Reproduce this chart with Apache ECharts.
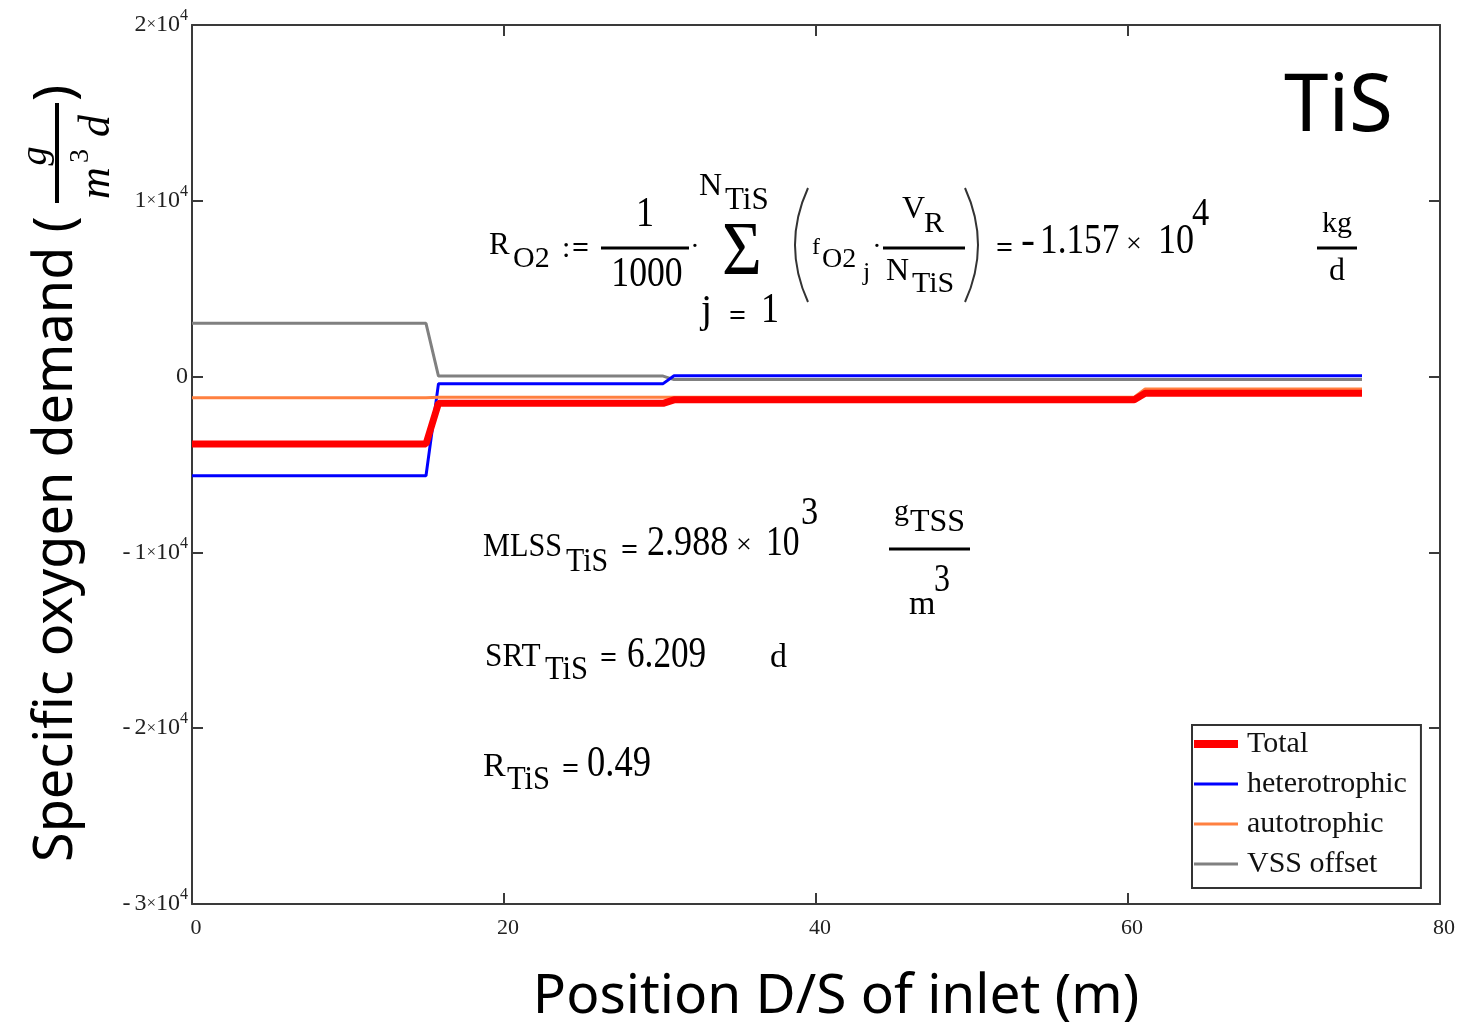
<!DOCTYPE html>
<html>
<head>
<meta charset="utf-8">
<script src="https://cdn.jsdelivr.net/npm/echarts@6/dist/echarts.min.js"></script>
<style>
  html, body { margin: 0; padding: 0; background: #fff; }
  #chart { width: 1468px; height: 1025px; }
</style>
</head>
<body>
<div id="chart"></div>
<script>
// values (position in m, demand in g/m3/d)
const position = [0, 15, 15.8, 30.2, 30.9, 60.4, 61.1, 75]
const total = [-3830, -3830, -1520, -1520, -1320, -1320, -950, -950]
const heterotrophic = [-5640, -5640, -400, -400, 50, 50, 50, 50]
const autotrophic = [-1200, -1200, -1180, -1180, -1170, -1170, -700, -700]
const vssOffset = [3030, 3030, 30, 30, -170, -170, -170, -170]
const legendNames = ['Total', 'heterotrophic', 'autotrophic', 'VSS offset']

const chart = echarts.init(document.getElementById('chart'))

const pairs = arr => position.map((x, i) => [x, arr[i]])
const frame = '#3a3a3a'
const serif = 'Liberation Serif'

// plain text helper for the Mathcad-like annotations
function t(x, y, text, size, o) {
  o = o || {}
  const al = o.al || 'left'
  return {
    type: 'text', x: x, y: y, z: 50,
    scaleX: o.sx || 1, rotation: o.rot || 0,
    style: {
      text: text, fontSize: size, fontFamily: o.ff || serif,
      fontStyle: o.it ? 'italic' : 'normal',
      fontWeight: o.b ? 'bold' : 'normal',
      fill: '#000',
      align: al, textAlign: al,
      verticalAlign: 'middle', textVerticalAlign: 'middle'
    }
  }
}
function ln(x1, y1, x2, y2, w) {
  return { type: 'line', z: 50, shape: { x1, y1, x2, y2 }, style: { stroke: '#000', lineWidth: w || 3 } }
}
function paren(x, y1, y2, cx) {
  return { type: 'bezierCurve', z: 50, shape: { x1: x, y1: y1, x2: x, y2: y2, cpx1: cx, cpy1: (y1 + y2) / 2 }, style: { stroke: '#333', lineWidth: 2, fill: null } }
}
// legend swatch: 44x14 box with a bar of the given thickness in the middle
const swatch = w => 'path://M0,0M0,14M0,' + (7 - w / 2) + 'H44V' + (7 + w / 2) + 'H0Z'

const annotations = [
  // R_O2 := 1/1000 * sum(...) = -1.157 x 10^4 kg/d
  t(489, 246, 'R', 31),
  t(513, 259, 'O2', 30),
  t(562, 249, ':', 30),
  t(572, 249, '=', 30, { b: true }),
  t(645, 215, '1', 42, { al: 'center', sx: 0.86 }),
  ln(601, 248, 689, 248),
  t(647, 275, '1000', 42, { al: 'center', sx: 0.85 }),
  t(695, 248, '·', 28, { al: 'center' }),
  t(742, 254, 'Σ', 76, { al: 'center', sx: 0.9 }),
  t(699, 187, 'N', 32),
  t(725, 201, 'TiS', 31),
  t(701, 311, 'j', 40),
  t(729, 317, '=', 30, { b: true }),
  t(761, 311, '1', 42, { sx: 0.86 }),
  paren(808, 188, 302, 782),
  t(812, 248, 'f', 24),
  t(822, 260, 'O2', 28),
  t(863, 273, 'j', 26),
  t(877, 248, '·', 28, { al: 'center' }),
  ln(883, 248, 965, 248),
  t(902, 210, 'V', 32),
  t(924, 224, 'R', 30),
  t(886, 272, 'N', 32),
  t(912, 284, 'TiS', 30),
  paren(965, 188, 302, 991),
  t(996, 249, '=', 30, { b: true }),
  t(1021, 242, '-', 42),
  t(1040, 242, '1.157', 42, { sx: 0.84 }),
  t(1126, 245, '×', 28),
  t(1158, 242, '10', 42, { sx: 0.86 }),
  t(1192, 214, '4', 40, { sx: 0.86 }),
  t(1337, 224, 'kg', 30, { al: 'center' }),
  ln(1317, 248, 1357, 248),
  t(1337, 272, 'd', 32, { al: 'center' }),

  // MLSS_TiS = 2.988 x 10^3 gTSS/m^3
  t(483, 547, 'MLSS', 34, { sx: 0.89 }),
  t(566, 562, 'TiS', 34, { sx: 0.88 }),
  t(621, 551, '=', 30, { b: true }),
  t(647, 544, '2.988', 42, { sx: 0.86 }),
  t(736, 546, '×', 28),
  t(766, 544, '10', 42, { sx: 0.8 }),
  t(801, 513, '3', 40, { sx: 0.86 }),
  t(894, 512, 'g', 30),
  t(910, 523, 'TSS', 32),
  ln(889, 549, 970, 549),
  t(934, 580, '3', 40, { sx: 0.8 }),
  t(909, 605, 'm', 34),

  // SRT_TiS = 6.209 d
  t(485, 657, 'SRT', 34, { sx: 0.92 }),
  t(545, 670, 'TiS', 34, { sx: 0.9 }),
  t(600, 659, '=', 30, { b: true }),
  t(627, 655, '6.209', 44, { sx: 0.8 }),
  t(770, 658, 'd', 34),

  // R_TiS = 0.49
  t(483, 767, 'R', 34),
  t(507, 780, 'TiS', 34, { sx: 0.9 }),
  t(562, 770, '=', 30, { b: true }),
  t(587, 764, '0.49', 44, { sx: 0.83 }),

  // big tag
  t(1284, 108, 'TiS', 80, { ff: 'Noto Sans' }),

  // axis titles
  t(836, 997, 'Position D/S of inlet (m)', 55, { ff: 'Noto Sans', al: 'center' }),
  t(57, 862, 'Specific oxygen demand (', 54, { ff: 'Noto Sans', rot: Math.PI / 2 }),
  t(36, 156, 'g', 38, { it: true, al: 'center', rot: Math.PI / 2 }),
  ln(57, 103, 57, 203, 4),
  t(97, 183, 'm', 44, { it: true, al: 'center', rot: Math.PI / 2 }),
  t(81, 156, '3', 28, { al: 'center', rot: Math.PI / 2 }),
  t(97, 126, 'd', 44, { it: true, al: 'center', rot: Math.PI / 2 }),
  t(57, 93, ')', 54, { ff: 'Noto Sans', al: 'center', rot: Math.PI / 2 })
]

const axisLine = { show: true, onZero: false, lineStyle: { color: frame, width: 2 } }
const axisTick = { show: true, inside: true, length: 11, lineStyle: { color: frame, width: 2 } }

const option = {
  animation: false,
  backgroundColor: '#fff',
  grid: { left: 192, right: 28, top: 25, bottom: 121 },
  xAxis: [
    {
      type: 'value', min: 0, max: 80, interval: 20,
      axisLine, axisTick, splitLine: { show: false },
      axisLabel: { margin: 13, fontFamily: serif, fontSize: 22, color: '#222', padding: [0, 0, 0, 8] }
    },
    {
      type: 'value', position: 'top', min: 0, max: 80, interval: 20,
      axisLine, axisTick, splitLine: { show: false }, axisLabel: { show: false }
    }
  ],
  yAxis: [
    {
      type: 'value', min: -30000, max: 20000, interval: 10000,
      axisLine, axisTick, splitLine: { show: false },
      axisLabel: {
        margin: 4,
        formatter: v => {
          if (v === 0) return '{n|0}'
          const k = Math.abs(v / 10000)
          return (v < 0 ? '{m|-}' : '') + '{n|' + k + '}{x|×}{n|10}{s|4}'
        },
        rich: {
          n: { fontFamily: serif, fontSize: 24, color: '#222', lineHeight: 34 },
          m: { fontFamily: serif, fontSize: 24, color: '#222', padding: [0, 4, 0, 0] },
          x: { fontFamily: serif, fontSize: 17, color: '#222' },
          s: { fontFamily: serif, fontSize: 16, color: '#222', verticalAlign: 'top' }
        }
      }
    },
    {
      type: 'value', position: 'right', min: -30000, max: 20000, interval: 10000,
      axisLine, axisTick, splitLine: { show: false }, axisLabel: { show: false }
    }
  ],
  legend: {
    orient: 'vertical', left: 1192, top: 725,
    data: [
      { name: legendNames[0], icon: swatch(8) },
      { name: legendNames[1], icon: swatch(3) },
      { name: legendNames[2], icon: swatch(3) },
      { name: legendNames[3], icon: swatch(3) }
    ],
    itemWidth: 44, itemHeight: 14, itemGap: 10,
    padding: [4, 14, 9, 2],
    borderColor: '#333', borderWidth: 2,
    textStyle: { fontFamily: serif, fontSize: 30, color: '#111', lineHeight: 30, padding: [0, 0, 0, 4] }
  },
  series: [
    { name: 'VSS offset', type: 'line', data: pairs(vssOffset), symbol: 'none', lineStyle: { color: '#808080', width: 3 }, itemStyle: { color: '#808080' } },
    { name: 'heterotrophic', type: 'line', data: pairs(heterotrophic), symbol: 'none', lineStyle: { color: '#0000ff', width: 3 }, itemStyle: { color: '#0000ff' } },
    { name: 'autotrophic', type: 'line', data: pairs(autotrophic), symbol: 'none', lineStyle: { color: '#ff8040', width: 3 }, itemStyle: { color: '#ff8040' } },
    { name: 'Total', type: 'line', data: pairs(total), symbol: 'none', lineStyle: { color: '#ff0000', width: 7 }, itemStyle: { color: '#ff0000' } }
  ],
  graphic: { elements: annotations }
}

chart.setOption(option)
</script>
</body>
</html>
